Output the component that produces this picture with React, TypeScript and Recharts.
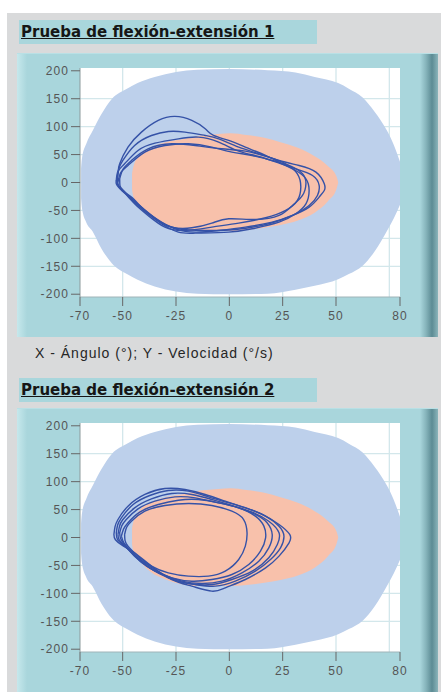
// App.tsx – two phase-plot panels (ángulo vs velocidad)

import {
  ComposedChart,
  Area,
  Line,
  XAxis,
  YAxis,
  CartesianGrid,
} from "recharts"

// ejes
const xTicks = [-70, -50, -25, 0, 25, 50, 80]
const yTicks = [-200, -150, -100, -50, 0, 50, 100, 150, 200]
const gridX = [-50, -25, 0, 25, 50, 75]
const gridY = [-150, -100, -50, 0, 50, 100, 150]

// zona azul (límite exterior), x -> [inferior, superior]
const blueZone = [
  { x: -69.5, band: [-28, 25] },
  { x: -69, band: [-48, 45] },
  { x: -67, band: [-72, 70] },
  { x: -64, band: [-88, 93] },
  { x: -60, band: [-118, 122] },
  { x: -55, band: [-145, 150] },
  { x: -48, band: [-164, 168] },
  { x: -43, band: [-174, 178] },
  { x: -35, band: [-186, 189] },
  { x: -25, band: [-195, 198] },
  { x: -15, band: [-199, 202] },
  { x: 0, band: [-200, 203] },
  { x: 18, band: [-199, 201] },
  { x: 31, band: [-192, 197] },
  { x: 40, band: [-185, 189] },
  { x: 51, band: [-173, 178] },
  { x: 56, band: [-164, 168] },
  { x: 62.5, band: [-149, 152] },
  { x: 68, band: [-124, 127] },
  { x: 74, band: [-86, 92] },
  { x: 77, band: [-65, 68] },
  { x: 80, band: [-40, 37] },
]

// zona rosa (rango normal)
const pinkZone = [
  { x: -45.6, band: [-12, 16] },
  { x: -45, band: [-25, 28] },
  { x: -41.8, band: [-43, 50] },
  { x: -37.1, band: [-61, 62] },
  { x: -29.2, band: [-76, 73] },
  { x: -21.4, band: [-84, 78] },
  { x: -13.5, band: [-87, 84] },
  { x: -5, band: [-87, 87] },
  { x: 0.6, band: [-87, 88] },
  { x: 8, band: [-85, 85] },
  { x: 16.4, band: [-81, 80] },
  { x: 24, band: [-76, 72] },
  { x: 32.1, band: [-68, 62] },
  { x: 40, band: [-54, 47] },
  { x: 46.3, band: [-33, 29] },
  { x: 50.2, band: [-12, 11] },
  { x: 51, band: [-1, 1] },
]

// prueba 1: ciclos [x, y]
const test1Cycles: number[][][] = [
  [[-52.5, 6.6], [-52.0, 21], [-51.4, 33.5], [-47.5, 63.3], [-41.2, 90.2], [-33.3, 111.1], [-25.5, 118.3], [-17.6, 111.1], [-11.3, 96.2], [-7.4, 84.2], [-0.3, 75.3], [7.5, 63.3], [17.0, 48.4], [24.8, 33.5], [31.1, 21.5], [35.9, 6.6], [37.4, -14.3], [35.9, -38.1], [31.1, -56.0], [23.3, -71.0], [10.7, -82.9], [-0.3, -88.9], [-16.0, -90.7], [-23.9, -88.9], [-31.8, -73.9], [-39.6, -50.1], [-45.9, -26.2], [-50.0, -15], [-52.3, -4]],
  [[-52.5, 9.6], [-51.8, 25], [-49.9, 39.4], [-44.4, 66.3], [-36.5, 84.2], [-28.6, 91.4], [-20.8, 90.2], [-11.3, 84.2], [-5.0, 78.2], [4.4, 63.3], [13.8, 51.4], [23.3, 39.4], [32.7, 30.5], [40.6, 18.6], [44.5, -2.3], [44.5, -14.3], [42.1, -26.2], [37.4, -44.1], [29.6, -59.0], [20.1, -71.0], [7.5, -79.9], [-5.0, -85.9], [-16.0, -88.9], [-25.5, -82.9], [-33.3, -68.0], [-41.2, -44.1], [-47.5, -23.2], [-50.3, -13], [-52.4, -3]],
  [[-53.0, 3.6], [-52.2, 20], [-49.1, 33.5], [-42.8, 57.3], [-34.9, 70.5], [-23.9, 78.2], [-14.5, 81.2], [-5.0, 72.3], [4.4, 56.2], [13.8, 46.6], [23.3, 34.7], [31.1, 24.5], [39.0, 12.6], [42.1, -5.3], [41.3, -23.2], [37.4, -41.1], [29.6, -59.0], [18.5, -73.9], [2.8, -84.1], [-11.3, -85.9], [-23.9, -82.9], [-31.8, -71.0], [-39.6, -50.1], [-45.9, -29.2], [-50.2, -15], [-52.8, -4]],
  [[-52.2, 0.7], [-51.0, 17], [-47.5, 30.5], [-39.6, 54.4], [-30.2, 66.3], [-19.2, 69.3], [-8.2, 63.3], [1.2, 54.4], [10.7, 48.4], [20.1, 39.4], [28.0, 30.5], [34.3, 15.6], [35.9, -2.3], [34.3, -23.2], [29.6, -41.1], [23.3, -59.0], [12.2, -66.2], [-0.3, -65.0], [-8.2, -72.7], [-17.6, -81.1], [-27.0, -79.9], [-34.9, -65.0], [-42.0, -44.1], [-47.5, -23.2], [-50.0, -13], [-52.0, -5]],
  [[-51.4, 6.6], [-49.8, 24], [-45.9, 39.4], [-38.1, 60.3], [-27.0, 69.3], [-16.0, 66.3], [-3.5, 60.3], [7.5, 56.2], [18.5, 45.4], [26.4, 33.5], [31.9, 15.6], [33.5, -8.3], [31.9, -32.2], [26.4, -50.1], [17.0, -63.2], [4.4, -72.7], [-8.2, -79.9], [-20.8, -85.9], [-30.2, -79.9], [-38.1, -59.0], [-44.4, -38.1], [-49.9, -14.3], [-51.3, -5]],
]

// prueba 2: ciclos [x, y]
const test2Cycles: number[][][] = [
  [[-54.1, 5.4], [-53.6, 19], [-52.2, 32.2], [-47.5, 56.1], [-39.6, 77.0], [-30.2, 87.7], [-20.8, 85.9], [-11.3, 77.0], [-1.9, 65.1], [7.5, 53.1], [15.4, 41.2], [23.3, 23.3], [28.3, 5.4], [28.0, -9.5], [23.3, -33.4], [17.0, -54.3], [7.5, -75.2], [-1.9, -90.1], [-8.2, -96.1], [-17.6, -87.1], [-27.0, -75.2], [-36.5, -51.3], [-44.4, -27.5], [-49.8, -15], [-53.4, -4]],
  [[-53.0, 8.4], [-52.4, 22], [-50.6, 35.2], [-45.1, 59.1], [-37.3, 75.2], [-28.6, 84.2], [-19.2, 83.0], [-9.8, 72.8], [-0.3, 62.1], [9.1, 51.3], [17.0, 38.2], [23.3, 20.3], [25.6, 2.4], [24.0, -18.5], [19.3, -39.4], [12.2, -60.3], [2.8, -78.2], [-6.6, -87.1], [-16.0, -84.2], [-25.5, -76.4], [-34.9, -57.3], [-42.8, -36.4], [-49.1, -15.5], [-52.4, -4]],
  [[-52.2, 5.4], [-51.5, 20], [-49.9, 32.2], [-44.4, 53.1], [-36.5, 69.2], [-27.0, 78.8], [-17.6, 77.0], [-8.2, 68.0], [1.2, 57.3], [10.7, 45.4], [18.5, 29.2], [23.3, 8.4], [22.5, -12.5], [18.5, -36.4], [10.7, -60.3], [1.2, -75.2], [-8.2, -84.2], [-19.2, -82.4], [-28.6, -72.2], [-37.3, -54.3], [-44.4, -33.4], [-49.1, -14.3], [-51.7, -4]],
  [[-51.4, 8.4], [-50.4, 21], [-48.3, 32.2], [-42.8, 51.3], [-34.9, 65.1], [-25.5, 72.8], [-16.0, 71.0], [-6.6, 63.3], [2.8, 54.9], [12.2, 41.2], [17.7, 26.3], [20.1, 5.4], [18.5, -18.5], [13.8, -42.4], [5.9, -63.3], [-3.5, -78.2], [-12.9, -82.4], [-22.3, -78.2], [-31.0, -66.2], [-38.8, -51.3], [-45.1, -30.4], [-49.1, -12.5], [-51.0, -2]],
  [[-50.6, 2.4], [-49.6, 15], [-47.5, 26.3], [-42.0, 45.4], [-33.3, 59.1], [-23.9, 66.8], [-14.5, 68.0], [-5.0, 62.1], [4.4, 53.1], [12.2, 38.2], [16.2, 20.3], [17.0, -0.6], [14.6, -24.5], [9.1, -48.3], [1.2, -66.2], [-8.2, -75.2], [-17.6, -78.2], [-27.0, -72.2], [-34.9, -60.3], [-41.2, -42.4], [-46.7, -21.5], [-49.5, -9]],
  [[-49.1, 5.4], [-48.2, 18], [-45.9, 29.2], [-39.6, 47.1], [-30.2, 57.3], [-19.2, 60.9], [-8.2, 57.3], [1.2, 47.1], [6.7, 32.2], [8.3, 8.4], [7.5, -15.5], [4.4, -39.4], [-1.9, -60.3], [-9.8, -69.2], [-19.2, -69.2], [-28.6, -63.3], [-36.5, -51.3], [-42.8, -33.4], [-47.5, -15.5], [-48.9, -5]],
]

const tickStyle = { fill: "#555", fontSize: 12, fontFamily: "Liberation Sans, Arial, sans-serif", letterSpacing: 1.1 }

function PhaseChart({ cycles }: { cycles: number[][][] }) {
  return (
    <ComposedChart width={421} height={284} margin={{ top: 15, right: 38, bottom: 10, left: 0 }}>
      <CartesianGrid
        fill="#ffffff"
        stroke="#d3e7eb"
        strokeWidth={1.3}
        horizontalValues={gridY}
        verticalValues={gridX}
      />
      <XAxis
        dataKey="x"
        type="number"
        domain={[-70, 80]}
        ticks={xTicks}
        allowDataOverflow
        height={30}
        tick={tickStyle}
        tickSize={9}
        tickMargin={5}
        tickLine={{ stroke: "#666" }}
        axisLine={{ stroke: "#a0b4b8" }}
      />
      <YAxis
        type="number"
        domain={[-205, 205]}
        ticks={yTicks}
        allowDataOverflow
        width={63}
        tick={tickStyle}
        tickSize={9}
        tickMargin={2}
        tickLine={{ stroke: "#666" }}
        axisLine={{ stroke: "#8c9a9c" }}
      />
      <Area
        data={blueZone}
        dataKey="band"
        type="monotone"
        stroke="none"
        fill="#bdd0eb"
        fillOpacity={1}
        isAnimationActive={false}
      />
      <Area
        data={pinkZone}
        dataKey="band"
        type="monotone"
        stroke="none"
        fill="#f8c1ab"
        fillOpacity={1}
        isAnimationActive={false}
      />
      {cycles.map((cycle, i) => (
        <Line
          key={i}
          data={cycle.concat([cycle[0]]).map(([x, y]) => ({ x, y }))}
          dataKey="y"
          type="natural"
          stroke="#3552a7"
          strokeWidth={1.4}
          dot={false}
          activeDot={false}
          isAnimationActive={false}
        />
      ))}
    </ComposedChart>
  )
}

const frameBg =
  "linear-gradient(to right, #c6e8ec 0px, #a9d6dc 10px, #a9d6dc 403px, #86b4bb 409px, #5c8b94 415px, #8ab4ba 421px)"

function Title({ top, text }: { top: number; text: string }) {
  return (
    <div
      style={{
        position: "absolute",
        left: 19,
        top,
        width: 298,
        height: 24,
        background: "#a9d6dc",
        boxSizing: "border-box",
        paddingLeft: 2,
        paddingTop: 3,
        fontFamily: "DejaVu Sans, Verdana, sans-serif",
        fontWeight: "bold",
        fontSize: 15,
        lineHeight: "18px",
        color: "#161616",
        textDecoration: "underline",
        whiteSpace: "nowrap",
      }}
    >
      {text}
    </div>
  )
}

function Frame({ top, cycles }: { top: number; cycles: number[][][] }) {
  return (
    <div
      style={{
        position: "absolute",
        left: 17,
        top,
        width: 421,
        height: 284,
        background: frameBg,
        borderTop: "1px solid #b9e0e5",
        boxSizing: "border-box",
      }}
    >
      <div style={{ position: "absolute", left: 0, top: -1 }}>
        <PhaseChart cycles={cycles} />
      </div>
    </div>
  )
}

export default function App() {
  return (
    <div style={{ position: "absolute", left: 0, top: 0, width: 441, height: 692, background: "#ffffff", overflow: "hidden" }}>
      <div style={{ position: "absolute", left: 7, top: 13, right: 0, bottom: 0, background: "#d9dadb" }} />
      <Title top={20} text="Prueba de flexión-extensión 1" />
      <Frame top={53} cycles={test1Cycles} />
      <div
        style={{
          position: "absolute",
          left: 35,
          top: 345,
          fontFamily: "Liberation Sans, Arial, sans-serif",
          fontSize: 14,
          letterSpacing: 1,
          lineHeight: "16px",
          color: "#262626",
          whiteSpace: "nowrap",
        }}
      >
        X - Ángulo (°); Y - Velocidad (°/s)
      </div>
      <Title top={378} text="Prueba de flexión-extensión 2" />
      <Frame top={408} cycles={test2Cycles} />
    </div>
  )
}
